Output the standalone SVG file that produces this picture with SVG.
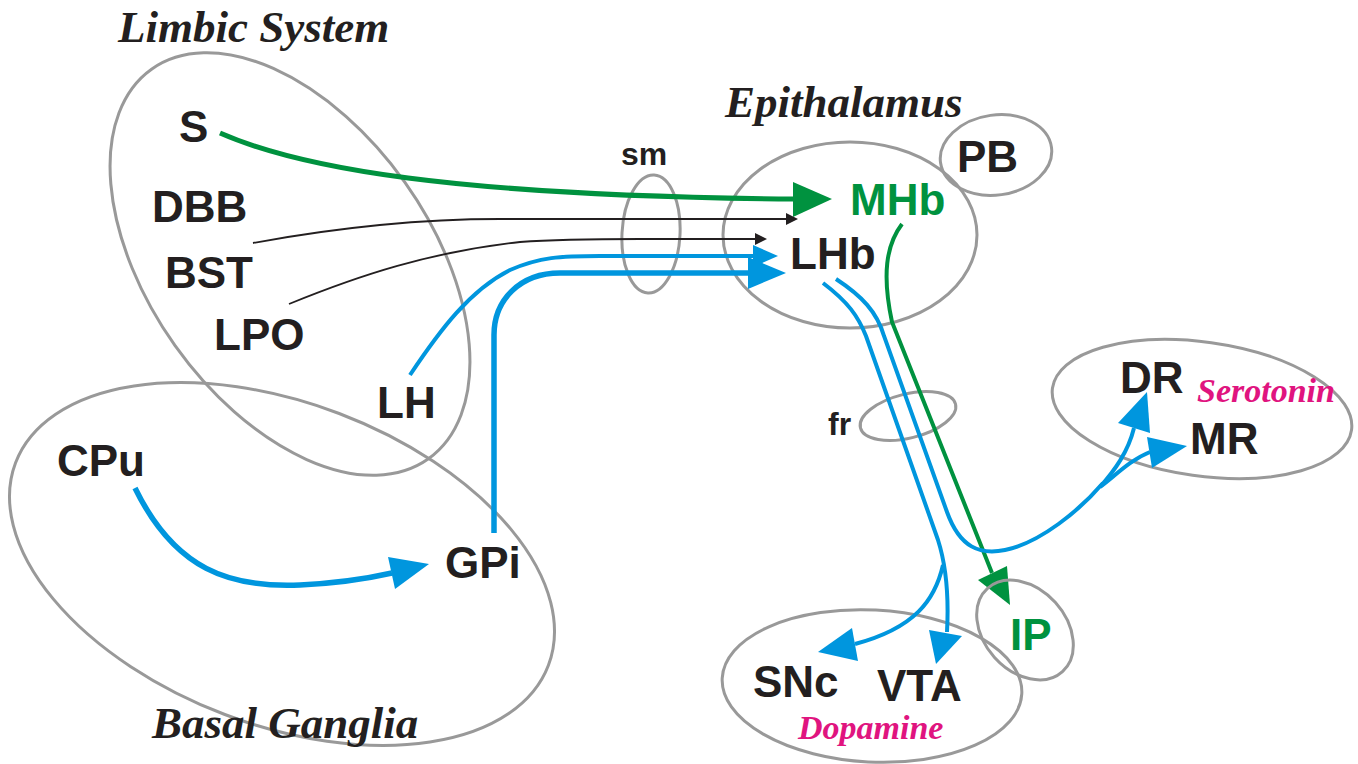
<svg xmlns="http://www.w3.org/2000/svg" width="1358" height="764" viewBox="0 0 1358 764">
<style>
.reg{fill:none;stroke:#999999;stroke-width:3}
.lbl{font-family:"Liberation Sans",Arial,sans-serif;font-weight:bold;font-size:44px;fill:#231F20}
.sml{font-family:"Liberation Sans",Arial,sans-serif;font-weight:bold;font-size:32px;fill:#231F20}
.ttl{font-family:"Liberation Serif","Times New Roman",serif;font-weight:bold;font-style:italic;font-size:45px;fill:#231F20}
.nt{font-family:"Liberation Serif","Times New Roman",serif;font-weight:bold;font-style:italic;font-size:34px;fill:#E0147F}
.grn{fill:#00923F}
.g{fill:none;stroke:#00923F;stroke-width:5}
.g4{fill:none;stroke:#00923F;stroke-width:4}
.b4{fill:none;stroke:#0096DE;stroke-width:4}
.b6{fill:none;stroke:#0096DE;stroke-width:5.5}
.k{fill:none;stroke:#231F20;stroke-width:1.8}
.ha{fill:#0096DE}
.hg{fill:#00923F}
.hk{fill:#231F20}
</style>
<rect width="1358" height="764" fill="#ffffff"/>
<g id="regions">
<g id="limbic-system"><ellipse class="reg" cx="290" cy="264" rx="239" ry="141" transform="rotate(54.6 290 264)"/><text class="ttl" x="118" y="42">Limbic System</text></g>
<g id="basal-ganglia"><ellipse class="reg" cx="282" cy="564" rx="285" ry="161" transform="rotate(20.8 282 564)"/><text class="ttl" x="152" y="738">Basal Ganglia</text></g>
<g id="epithalamus"><ellipse class="reg" cx="850" cy="235" rx="127" ry="93"/><text class="ttl" x="725" y="117">Epithalamus</text></g>
<g id="serotonin"><ellipse class="reg" cx="1202" cy="409" rx="151" ry="67" transform="rotate(8 1202 409)"/><text class="nt" x="1197" y="402">Serotonin</text></g>
<g id="dopamine"><ellipse class="reg" cx="872" cy="686" rx="150" ry="76" transform="rotate(3 872 686)"/><text class="nt" x="798" y="739">Dopamine</text></g>
<g id="sm"><ellipse class="reg" cx="651" cy="234" rx="29" ry="59" transform="rotate(3 651 234)"/><text class="sml" x="621" y="165">sm</text></g>
<g id="fr"><ellipse class="reg" cx="908" cy="416" rx="49" ry="22" transform="rotate(-14 908 416)"/><text class="sml" x="828" y="435">fr</text></g>
</g>
<g id="connectors">
<path class="g" d="M220,133 C300,168 450,196 795,199"/>
<polygon class="hg" points="832,199 793,182 793,217"/>
<path class="k" d="M253,243 C340,227 420,219 500,219 L788,219"/>
<polygon class="hk" points="798,219 786,213 786,225"/>
<path class="k" d="M289,304 C360,275 430,252 520,242 C560,239 600,239 640,239 L757,239"/>
<polygon class="hk" points="767,239 755,233 755,245"/>
<path class="b4" d="M410,375 C440,330 470,290 510,270 C540,257 560,256 600,256 L755,256"/>
<polygon class="ha" points="778,256 753,245 753,267"/>
<path class="b6" d="M494,533 L494,335 C494,300 520,273 560,273 L750,273"/>
<polygon class="ha" points="786,273 748,257 748,289"/>
<path class="b6" d="M135,488 C175,570 230,588 300,585 C340,583 370,578 392,573"/>
<polygon class="ha" points="429,564 388,557 395,589"/>
<path class="g4" d="M902,224 C886,245 882,275 892,322 L992,573"/>
<polygon class="hg" points="1010,605 978,580 1007,566"/>
<path class="b4" d="M823,283 C848,302 858,316 866,336 L938,540 C946,565 949,595 947,632"/>
<polygon class="ha" points="936,664 929,630 962,636"/>
<path class="b4" d="M943,565 C935,600 915,628 855,644"/>
<polygon class="ha" points="818,652 852,628 858,661"/>
<path class="b4" d="M836,279 C862,296 877,312 884,336 L947,512 C960,548 980,555 1005,550 C1040,543 1080,510 1103,483"/>
<path class="b4" d="M1100,487 C1115,470 1128,452 1134,428"/>
<polygon class="ha" points="1147,392 1118,423 1150,433"/>
<path class="b4" d="M1100,487 C1115,476 1130,460 1150,452"/>
<polygon class="ha" points="1187,446 1147,437 1152,468"/>
</g>
<g id="nodes">
<g id="node-S"><text class="lbl" x="179" y="142">S</text></g>
<g id="node-DBB"><text class="lbl" x="152" y="222">DBB</text></g>
<g id="node-BST"><text class="lbl" x="165" y="288">BST</text></g>
<g id="node-LPO"><text class="lbl" x="214" y="350">LPO</text></g>
<g id="node-LH"><text class="lbl" x="377" y="418">LH</text></g>
<g id="node-CPu"><text class="lbl" x="57" y="476">CPu</text></g>
<g id="node-GPi"><text class="lbl" x="445" y="578">GPi</text></g>
<g id="node-MHb"><text class="lbl grn" x="850" y="215">MHb</text></g>
<g id="node-LHb"><text class="lbl" x="790" y="269">LHb</text></g>
<g id="node-PB"><ellipse class="reg" cx="996" cy="155" rx="56" ry="40" transform="rotate(-8 996 155)"/><text class="lbl" x="957" y="172">PB</text></g>
<g id="node-DR"><text class="lbl" x="1120" y="393">DR</text></g>
<g id="node-MR"><text class="lbl" x="1190" y="454">MR</text></g>
<g id="node-IP"><ellipse class="reg" cx="1025" cy="630" rx="56" ry="41" transform="rotate(48 1025 630)"/><text class="lbl grn" x="1010" y="650">IP</text></g>
<g id="node-SNc"><text class="lbl" x="753" y="697">SNc</text></g>
<g id="node-VTA"><text class="lbl" x="877" y="701">VTA</text></g>
</g>
</svg>
